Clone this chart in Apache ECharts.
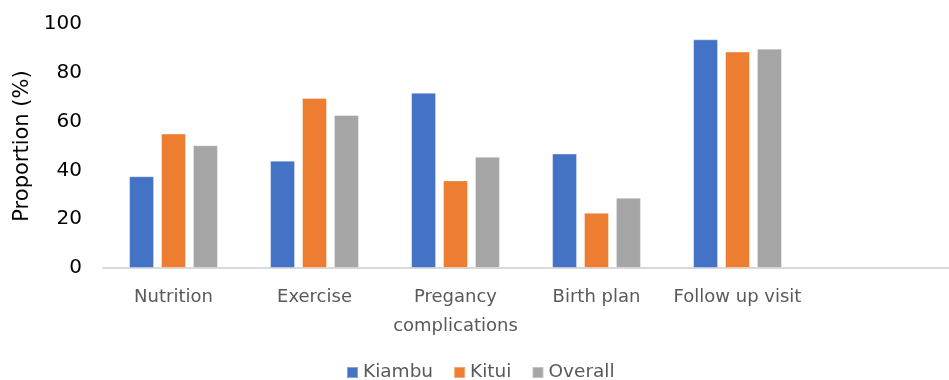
<!DOCTYPE html>
<html>
<head>
<meta charset="utf-8">
<script src="https://cdn.jsdelivr.net/npm/echarts@6/dist/echarts.min.js"></script>
<style>
  html, body { margin: 0; padding: 0; background: #fff; }
  #chart { width: 949px; height: 380px; }
</style>
</head>
<body>
<div id="chart"></div>
<script>
// Topics discussed, with an empty trailing slot on the category axis
const categories = ['Nutrition', 'Exercise', 'Pregancy\ncomplications', 'Birth plan', 'Follow up visit', ''];
const kiambu  = [37.6, 44.0, 71.8, 46.9, 93.7];
const kitui   = [55.1, 69.7, 35.9, 22.6, 88.7];
const overall = [50.3, 62.7, 45.6, 28.8, 89.9];
const yTicks = { min: 0, max: 100, interval: 20 };

const FONT = '"DejaVu Sans", "Noto Sans", sans-serif';

function bar(name, data, color) {
  return {
    name: name,
    type: 'bar',
    data: data,
    barGap: '28%',
    barCategoryGap: '37%',
    itemStyle: { color: color, borderColor: 'rgba(255,255,255,0.35)', borderWidth: 1 }
  };
}

const chart = echarts.init(document.getElementById('chart'), null, { renderer: 'canvas' });
chart.setOption({
  animation: false,
  textStyle: { fontFamily: FONT },
  grid: { left: 103, right: -7.5, top: 24, bottom: 112, containLabel: false },
  legend: {
    top: 358,
    left: 341,
    itemWidth: 11,
    itemHeight: 11,
    itemGap: 20,
    icon: 'rect',
    textStyle: { fontSize: 18.5, color: '#595959', fontFamily: FONT },
    data: ['Kiambu', 'Kitui', 'Overall']
  },
  xAxis: {
    type: 'category',
    data: categories,
    axisLine: { lineStyle: { color: '#d9d9d9', width: 2 } },
    axisTick: { show: false },
    axisLabel: { color: '#595959', fontSize: 18, margin: 15, lineHeight: 29, interval: 0, fontFamily: FONT }
  },
  yAxis: {
    type: 'value',
    min: yTicks.min,
    max: yTicks.max,
    interval: yTicks.interval,
    name: 'Proportion (%)',
    nameLocation: 'middle',
    nameRotate: 90,
    nameGap: 70,
    nameTextStyle: { fontSize: 21, color: '#000', fontFamily: FONT },
    axisLine: { show: false },
    axisTick: { show: false },
    splitLine: { show: false },
    axisLabel: { color: '#000', fontSize: 20, margin: 21, fontFamily: FONT }
  },
  series: [
    bar('Kiambu', kiambu, '#4472C4'),
    bar('Kitui', kitui, '#ED7D31'),
    bar('Overall', overall, '#A5A5A5')
  ]
});
</script>
</body>
</html>
